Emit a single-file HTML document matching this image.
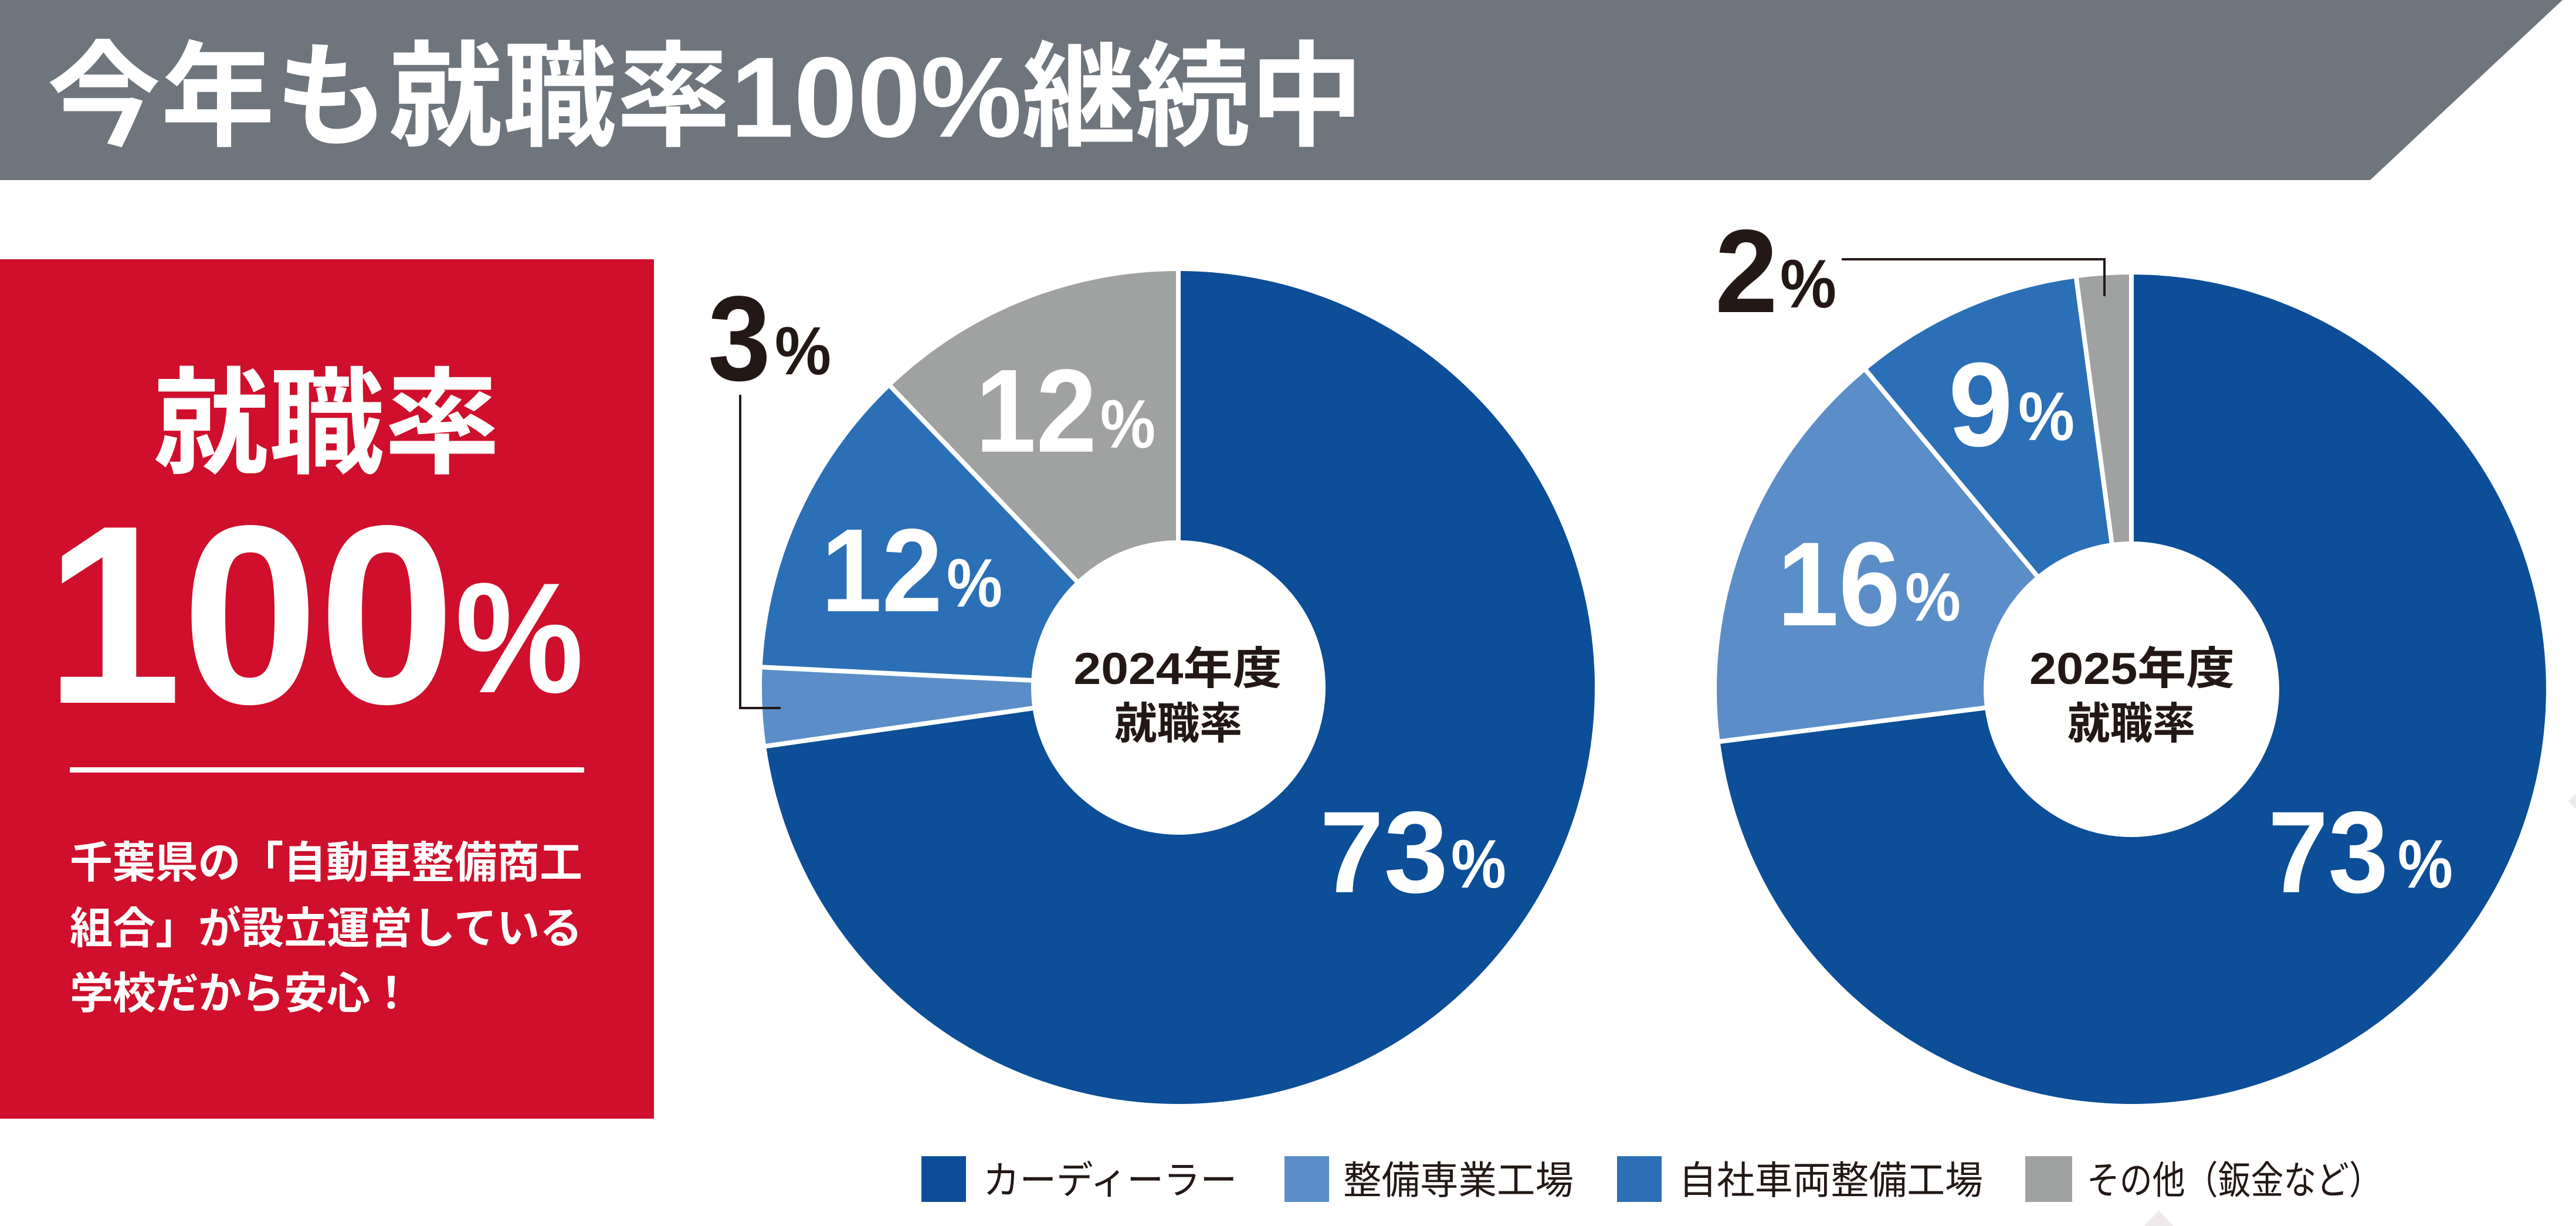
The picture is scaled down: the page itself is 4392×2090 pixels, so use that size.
<!DOCTYPE html>
<html lang="ja">
<head>
<meta charset="utf-8">
<title>今年も就職率100%継続中</title>
<style>
  html, body { margin: 0; padding: 0; background: #ffffff; }
  body { width: 4392px; height: 2090px; overflow: hidden; }
  svg { display: block; }
  .jp { font-family: "Liberation Sans", "Noto Sans CJK JP", sans-serif; }
  .num { font-family: "Liberation Sans", "Noto Sans CJK JP", sans-serif; font-weight: bold; }
</style>
</head>
<body>
<svg width="4392" height="2090" viewBox="0 0 4392 2090" xmlns="http://www.w3.org/2000/svg">
  <rect x="0" y="0" width="4392" height="2090" fill="#ffffff"/>

  <!-- Title bar -->
  <polygon points="0,0 4369,0 4041,307 0,307" fill="#6e757d"/>
  <text class="jp" x="80" y="233" font-size="195" font-weight="bold" fill="#ffffff" textLength="2245" lengthAdjust="spacingAndGlyphs">今年も就職率100%継続中</text>

  <!-- Red box -->
  <rect x="0" y="442" width="1115" height="1465" fill="#cf0f2b"/>
  <text class="jp" x="557" y="791" font-size="197" font-weight="bold" fill="#ffffff" text-anchor="middle">就職率</text>
  <text class="num" x="77" y="1198" font-size="434" fill="#ffffff" textLength="699" lengthAdjust="spacingAndGlyphs">100</text>
  <text class="num" x="776" y="1180" font-size="268" fill="#ffffff" textLength="219" lengthAdjust="spacingAndGlyphs">%</text>
  <rect x="119" y="1308" width="877" height="9" fill="#ffffff"/>
  <text class="jp" x="119" y="1496" font-size="74" font-weight="bold" fill="#ffffff" textLength="874" lengthAdjust="spacingAndGlyphs">千葉県の「自動車整備商工</text>
  <text class="jp" x="119" y="1608" font-size="74" font-weight="bold" fill="#ffffff" textLength="874" lengthAdjust="spacingAndGlyphs">組合」が設立運営している</text>
  <text class="jp" x="119" y="1719" font-size="74" font-weight="bold" fill="#ffffff" letter-spacing="-1">学校だから安心！</text>

  <!-- Pie 1 (2024) -->
  <g>
    <path d="M2009,1172 L2009,462 A710,710 0 1 1 1306.1,1272.0 Z" fill="#0c4e97"/>
    <path d="M2009,1172 L1306.1,1272.0 A710,710 0 0 1 1299.8,1137.3 Z" fill="#5b8ec8"/>
    <path d="M2009,1172 L1299.8,1137.3 A710,710 0 0 1 1518.5,658.7 Z" fill="#2b6fb6"/>
    <path d="M2009,1172 L1518.5,658.7 A710,710 0 0 1 2009,462 Z" fill="#a0a2a1"/>
    <g stroke="#ffffff" stroke-width="8">
      <line x1="2009" y1="1172" x2="2009" y2="455"/>
      <line x1="2009" y1="1172" x2="1299" y2="1273"/>
      <line x1="2009" y1="1172" x2="1292" y2="1137"/>
      <line x1="2009" y1="1172" x2="1513" y2="653"/>
    </g>
    <circle cx="2009" cy="1172" r="251" fill="#ffffff"/>
  </g>
  <text class="jp" x="2008" y="1166" font-size="76" font-weight="bold" fill="#231815" text-anchor="middle" textLength="355" lengthAdjust="spacingAndGlyphs">2024年度</text>
  <text class="jp" x="2009" y="1259" font-size="74" font-weight="bold" fill="#231815" text-anchor="middle" textLength="218" lengthAdjust="spacingAndGlyphs">就職率</text>

  <text class="num" x="1663" y="770" font-size="202" fill="#ffffff" textLength="207" lengthAdjust="spacingAndGlyphs">12</text>
  <text class="num" x="1876" y="763" font-size="117" fill="#ffffff" textLength="94" lengthAdjust="spacingAndGlyphs">%</text>
  <text class="num" x="1400" y="1042" font-size="202" fill="#ffffff" textLength="207" lengthAdjust="spacingAndGlyphs">12</text>
  <text class="num" x="1614" y="1034" font-size="117" fill="#ffffff" textLength="95" lengthAdjust="spacingAndGlyphs">%</text>
  <text class="num" x="2250" y="1521" font-size="198" fill="#ffffff" textLength="219" lengthAdjust="spacingAndGlyphs">73</text>
  <text class="num" x="2474" y="1513" font-size="117" fill="#ffffff" textLength="94" lengthAdjust="spacingAndGlyphs">%</text>

  <text class="num" x="1207" y="648" font-size="206" fill="#231815" textLength="107" lengthAdjust="spacingAndGlyphs">3</text>
  <text class="num" x="1321" y="638" font-size="116" fill="#231815" textLength="96" lengthAdjust="spacingAndGlyphs">%</text>
  <polyline points="1262,673 1262,1207 1331,1207" fill="none" stroke="#231815" stroke-width="4"/>

  <!-- Pie 2 (2025) -->
  <g>
    <path d="M3634,1175 L3634,468 A707,707 0 1 1 2932.6,1263.6 Z" fill="#0c4e97"/>
    <path d="M3634,1175 L2932.6,1263.6 A707,707 0 0 1 3181.4,631.8 Z" fill="#5b8ec8"/>
    <path d="M3634,1175 L3181.4,631.8 A707,707 0 0 1 3540.5,474.2 Z" fill="#2b6fb6"/>
    <path d="M3634,1175 L3540.5,474.2 A707,707 0 0 1 3634,468 Z" fill="#a0a2a1"/>
    <g stroke="#ffffff" stroke-width="8">
      <line x1="3634" y1="1175" x2="3634" y2="461"/>
      <line x1="3634" y1="1175" x2="2925" y2="1265"/>
      <line x1="3634" y1="1175" x2="3177" y2="626"/>
      <line x1="3634" y1="1175" x2="3539" y2="467"/>
    </g>
    <circle cx="3634" cy="1175" r="252" fill="#ffffff"/>
  </g>
  <text class="jp" x="3635" y="1166" font-size="76" font-weight="bold" fill="#231815" text-anchor="middle" textLength="350" lengthAdjust="spacingAndGlyphs">2025年度</text>
  <text class="jp" x="3634" y="1259" font-size="74" font-weight="bold" fill="#231815" text-anchor="middle" textLength="218" lengthAdjust="spacingAndGlyphs">就職率</text>

  <text class="num" x="3322" y="760" font-size="204" fill="#ffffff" textLength="110" lengthAdjust="spacingAndGlyphs">9</text>
  <text class="num" x="3441" y="750" font-size="117" fill="#ffffff" textLength="96" lengthAdjust="spacingAndGlyphs">%</text>
  <text class="num" x="3030" y="1066" font-size="204" fill="#ffffff" textLength="210" lengthAdjust="spacingAndGlyphs">16</text>
  <text class="num" x="3248" y="1058" font-size="117" fill="#ffffff" textLength="95" lengthAdjust="spacingAndGlyphs">%</text>
  <text class="num" x="3867" y="1521" font-size="198" fill="#ffffff" textLength="205" lengthAdjust="spacingAndGlyphs">73</text>
  <text class="num" x="4088" y="1513" font-size="117" fill="#ffffff" textLength="94" lengthAdjust="spacingAndGlyphs">%</text>

  <text class="num" x="2924" y="532" font-size="202" fill="#231815" textLength="107" lengthAdjust="spacingAndGlyphs">2</text>
  <text class="num" x="3035" y="524" font-size="117" fill="#231815" textLength="96" lengthAdjust="spacingAndGlyphs">%</text>
  <polyline points="3140,442 3588,442 3588,505" fill="none" stroke="#231815" stroke-width="4"/>

  <!-- Legend -->
  <rect x="1571" y="1971" width="76" height="78" fill="#0c4e97"/>
  <text class="jp" x="1676" y="2035" font-size="66" fill="#231815" textLength="433" lengthAdjust="spacingAndGlyphs">カーディーラー</text>
  <rect x="2190" y="1971" width="76" height="78" fill="#5b8ec8"/>
  <text class="jp" x="2290" y="2035" font-size="66" fill="#231815" textLength="393" lengthAdjust="spacingAndGlyphs">整備専業工場</text>
  <rect x="2757" y="1971" width="76" height="78" fill="#2b6fb6"/>
  <text class="jp" x="2862" y="2035" font-size="66" fill="#231815" textLength="519" lengthAdjust="spacingAndGlyphs">自社車両整備工場</text>
  <rect x="3453" y="1971" width="80" height="78" fill="#a0a2a1"/>
  <text class="jp" x="3558" y="2035" font-size="66" fill="#231815" textLength="503" lengthAdjust="spacingAndGlyphs">その他（鈑金など）</text>

  <!-- small decorative marks -->
  <polygon points="3656,2090 3705,2090 3681,2063" fill="#eee8ec"/>
  <polygon points="4392,1353 4379,1366 4392,1380" fill="#eee8ec"/>
</svg>
</body>
</html>
